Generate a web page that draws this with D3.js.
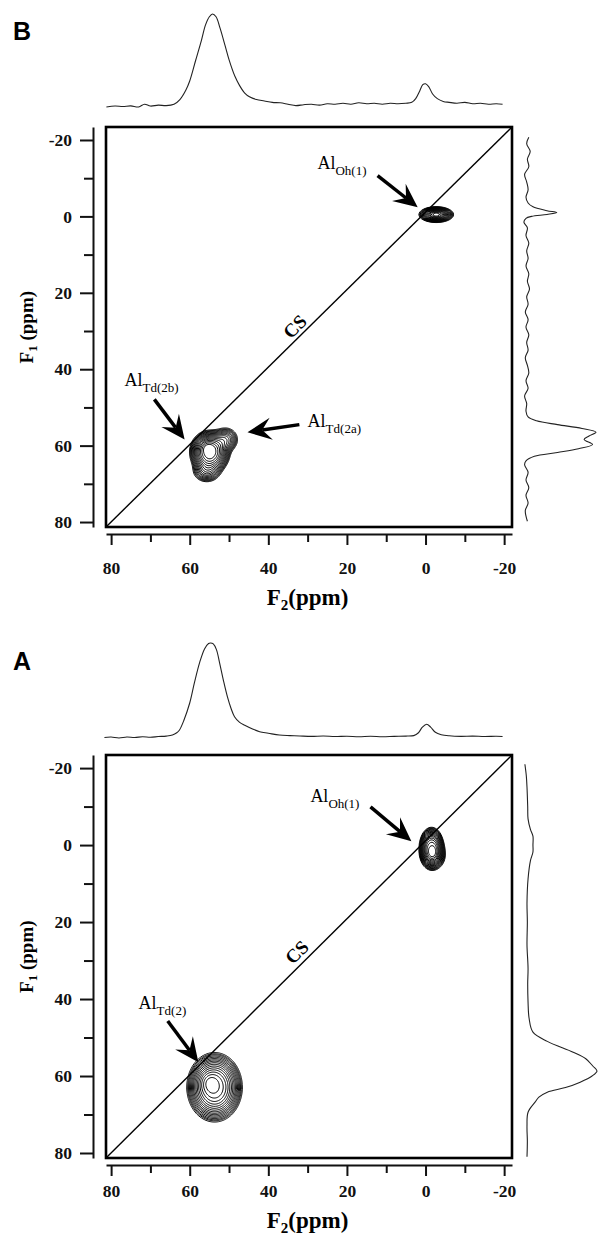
<!DOCTYPE html>
<html>
<head>
<meta charset="utf-8">
<script src="https://cdn.jsdelivr.net/npm/d3@7"></script>
<style>
body { margin: 0; background: #fff; }
svg { display: block; }
.tick text { font-family: "Liberation Serif", "Times New Roman", serif; font-weight: bold; font-size: 17.5px; fill: #111; }
.axis .domain, .axis line { stroke: #111; stroke-width: 2; }
</style>
</head>
<body>
<svg width="598" height="1236"></svg>
<script>
// ---- data (ppm / relative intensity) ----
const majorTicks = [80, 60, 40, 20, 0, -20]
const minorTicks = [70, 50, 30, 10, -10]

// contour levels, fraction of the strongest peak
const levels = [0.05, 0.065, 0.08, 0.1, 0.125, 0.155, 0.19, 0.23, 0.28, 0.34, 0.41, 0.49, 0.58, 0.68, 0.79, 0.9]

// F2 projection (top), [ppm, intensity]
const topB = [[81.2,0],[79,1],[77,0.5],[75,1.2],[73,0],[71.5,3],[70,1],[68,2],[66,1.5],[64,3],[62.5,8],[61,18],[60,28],[58.5,50],[57,72],[56,88],[55,97],[54.2,100],[53.3,97],[52.3,85],[51,66],[50,51],[48.5,33],[47.3,23],[46,15],[44.8,11],[43,8],[41,6.5],[39,5],[37,4.5],[35,3],[33,1.5],[31,2.5],[29,3],[27,2],[25,3.5],[23,3],[21,4],[19,3],[17,4.5],[15,3.5],[13,4],[11,3],[9,4],[7,3.5],[5,4],[3.5,5],[2.5,9],[1.5,17],[0.7,24],[0,25],[-0.8,22],[-1.8,14],[-3,9],[-4.5,6],[-6,5],[-8,4],[-10,5],[-12,3.5],[-14,4],[-16,3],[-18,3.5],[-19.6,3]]
const topA = [[81.7,0],[80,0.5],[78,-0.5],[76,0.5],[74,0],[72,0.8],[70,0.3],[68,1],[66,1.5],[64.4,2.6],[63.3,5],[62.6,8],[61.5,18],[60,36.5],[58.8,58],[57.5,79],[56.2,94],[55.2,99.5],[54.7,100],[54,99],[53.2,93],[52.4,79],[51.4,60],[50.4,43],[49.5,31],[48.6,22],[47.3,16],[46,13],[44,9],[42.2,6],[40,4.5],[37.2,2.6],[34.5,2],[32,1.6],[29,1.2],[26,1.6],[23,1],[20,1.4],[17,0.8],[14,1.3],[11,0.8],[8,1.2],[5,1.5],[3,2],[1.8,5],[0.8,11],[-0.3,14],[-1.3,11],[-2.5,5.5],[-4,3],[-6,1.8],[-9,1.2],[-12,1.5],[-15,1],[-18,1.3],[-19.6,1]]

// F1 projection (right), [ppm, intensity]
const rightB = [[-20.7,4],[-19,1],[-17,6],[-15,2],[-13,4],[-11,-2],[-9,1],[-7,3],[-5,0],[-3.5,3],[-2.5,10],[-1.5,30],[-1,44],[-0.5,30],[0,8],[0.5,0],[1.5,-3],[3,2],[5,0],[7,4],[9,1],[11,3],[13,0],[15,4],[17,2],[19,5],[21,1],[23,3],[25,-1],[27,3],[29,0],[31,4],[33,1],[35,3],[37,-1],[39,2],[41,4],[43,0],[45,3],[47,-2],[49,1],[51,0],[52.5,3],[53.5,15],[54.5,45],[55.5,80],[56.5,100],[57.5,90],[58.4,83],[59.7,95],[60.8,75],[61.8,45],[62.8,12],[64,0],[65,-2],[67,3],[69,0],[71,4],[73,0],[75,3],[77,-1],[79.8,2]]
const rightA = [[-21,-3],[-18,-1],[-15,0],[-10,1],[-6.8,1.5],[-4,5],[-2.3,8.5],[0,8.5],[1.8,8.5],[4,5],[8.8,1.5],[15,0],[20,0.5],[26,0],[32,1.5],[36,1],[40.8,1.5],[45,3],[48.6,8.5],[51,29],[53.8,66],[55.5,84],[57.4,94],[58.7,100],[60,93],[61.6,76],[63,55],[64.2,29],[65.5,17],[66.8,11.5],[69.4,1.5],[73,0],[77,0.5],[81,0]]

// 2D peaks: centre (F2, F1), half widths (ppm), shape exponent, amplitude
const peaksB = [
  {f2: 55.0, f1: 61.6, w2: 2.6, w1: 2.9, p: 1.3, amp: 1},
  {f2: 51.0, f1: 58.3, w2: 1.6, w1: 1.6, p: 1, amp: 0.3},
  {f2: 55.8, f1: 66.6, w2: 1.8, w1: 1.5, p: 1, amp: 0.25},
  {f2: 55.6, f1: 60.3, w2: 1.0, w1: 0.9, p: 1, amp: 0.12},
  {f2: -2.6, f1: -0.6, w2: 1.8, w1: 0.85, p: 1, amp: 1}
]
const peaksA = [
  {f2: 53.8, f1: 62.8, w2: 3.6, w1: 4.6, p: 1.3, amp: 0.9},
  {f2: 55.4, f1: 61.4, w2: 1.6, w1: 1.8, p: 1, amp: 0.15},
  {f2: -1.4, f1: 0.6, w2: 1.7, w1: 2.9, p: 1.4, amp: 0.8},
  {f2: -1.9, f1: 2.6, w2: 1.5, w1: 1.8, p: 1, amp: 0.3}
]

// annotations: label subscript, label anchor, arrow tail and tip (ppm)
const notesB = [
  {sub: 'Oh(1)', at: [27.5, -12.3], tail: [12.2, -10.7], tip: [2.0, -2.4]},
  {sub: 'Td(2b)', at: [76.6, 44.5], tail: [69.0, 47.9], tip: [61.3, 58.4]},
  {sub: 'Td(2a)', at: [30.0, 55.2], tail: [32.1, 54.5], tip: [45.3, 56.5]}
]
const notesA = [
  {sub: 'Oh(1)', at: [29.3, -11.2], tail: [14.0, -9.9], tip: [3.6, -1.0]},
  {sub: 'Td(2)', at: [73.0, 42.6], tail: [65.6, 45.7], tip: [57.8, 56.4]}
]
const csB = [33.3, 28.8]
const csA = [32.8, 27.8]

// ---- drawing ----
const SERIF = '"Liberation Serif", "Times New Roman", serif'
const svg = d3.select('svg')

function arrow(g, x0, y0, x1, y1) {
  const L = 24, W = 22
  const dx = x1 - x0, dy = y1 - y0
  const len = Math.hypot(dx, dy)
  const ux = dx / len, uy = dy / len
  const nx = -uy, ny = ux
  const bx = x1 - ux * L, by = y1 - uy * L
  const mx = x1 - ux * L * 0.62, my = y1 - uy * L * 0.62
  g.append('line')
    .attr('x1', x0).attr('y1', y0).attr('x2', mx).attr('y2', my)
    .attr('stroke', '#000').attr('stroke-width', 3.5)
  g.append('path')
    .attr('d', `M${x1},${y1}L${bx + nx * W / 2},${by + ny * W / 2}L${mx},${my}L${bx - nx * W / 2},${by - ny * W / 2}Z`)
    .attr('fill', '#000')
}

function drawPanel(cfg) {
  const x = d3.scaleLinear().domain([81.3, -22]).range([106, 512])
  const y = d3.scaleLinear().domain([-23.4, 81.3]).range([cfg.boxTop, cfg.boxBottom])
  const g = svg.append('g')

  // panel letter
  g.append('text')
    .attr('x', 13).attr('y', cfg.letterY)
    .attr('font-family', '"Liberation Sans", Arial, sans-serif')
    .attr('font-weight', 'bold').attr('font-size', 25)
    .text(cfg.letter)

  // projections
  const ty = d3.scaleLinear().domain([0, 100]).range(cfg.topRange)
  const rx = d3.scaleLinear().domain([0, 100]).range(cfg.rightRange)
  g.append('path')
    .attr('d', d3.line().x(d => x(d[0])).y(d => ty(d[1])).curve(d3.curveCatmullRom)(cfg.top))
    .attr('fill', 'none').attr('stroke', '#222').attr('stroke-width', 1.1)
  g.append('path')
    .attr('d', d3.line().x(d => rx(d[1])).y(d => y(d[0])).curve(d3.curveCatmullRom)(cfg.right))
    .attr('fill', 'none').attr('stroke', '#222').attr('stroke-width', 1.1)

  // contours from the peak table
  const step = 0.25, f2s = 82, f1s = -24
  const n = 421, m = 425
  const values = new Float64Array(n * m)
  for (let j = 0; j < m; j++) {
    const f1 = f1s + j * step
    for (let i = 0; i < n; i++) {
      const f2 = f2s - i * step
      let v = 0
      for (const pk of cfg.peaks) {
        const a = (f2 - pk.f2) / pk.w2, b = (f1 - pk.f1) / pk.w1
        const r2 = a * a + b * b
        if (r2 < 40) v += pk.amp * Math.exp(-0.5 * Math.pow(r2, pk.p))
      }
      values[j * n + i] = v
    }
  }
  const proj = d3.geoTransform({
    point: function(gx, gy) { this.stream.point(x(f2s - gx * step), y(f1s + gy * step)) }
  })
  const contours = d3.contours().size([n, m]).thresholds(levels)(values)
  g.append('g').selectAll('path')
    .data(contours)
    .enter().append('path')
      .attr('d', d3.geoPath(proj))
      .attr('fill', 'none').attr('stroke', '#000').attr('stroke-width', 1)

  // box and CS diagonal
  const [xa, xb] = x.domain(), [ya, yb] = y.domain()
  g.append('line')
    .attr('x1', x(xa)).attr('y1', y(yb)).attr('x2', x(xb)).attr('y2', y(ya))
    .attr('stroke', '#000').attr('stroke-width', 1.4)
  g.append('rect')
    .attr('x', x(xa)).attr('y', y(ya))
    .attr('width', x(xb) - x(xa)).attr('height', y(yb) - y(ya))
    .attr('fill', 'none').attr('stroke', '#000').attr('stroke-width', 2.6)

  const ang = Math.atan2(y(ya) - y(yb), x(xb) - x(xa)) * 180 / Math.PI
  g.append('text')
    .attr('transform', `translate(${x(cfg.cs[0])},${y(cfg.cs[1])}) rotate(${ang})`)
    .attr('text-anchor', 'middle').attr('dy', '0.35em')
    .attr('font-family', SERIF).attr('font-weight', 'bold').attr('font-size', 19)
    .text('CS')

  // axes
  const fmt = d => String(d)
  const left = g.append('g').attr('class', 'axis').attr('transform', 'translate(93,0)')
  left.call(d3.axisLeft(y).tickValues(majorTicks).tickSize(13).tickSizeOuter(0).tickPadding(8).tickFormat(fmt))
  left.append('g').call(d3.axisLeft(y).tickValues(minorTicks).tickSize(9).tickSizeOuter(0).tickFormat(''))
    .select('.domain').remove()

  const axY = cfg.boxBottom + 7
  const bottom = g.append('g').attr('class', 'axis').attr('transform', `translate(0,${axY})`)
  bottom.call(d3.axisBottom(x).tickValues(majorTicks).tickSize(11).tickSizeOuter(0).tickPadding(cfg.xPad).tickFormat(fmt))
  bottom.append('g').call(d3.axisBottom(x).tickValues(minorTicks).tickSize(8).tickSizeOuter(0).tickFormat(''))
    .select('.domain').remove()
  g.selectAll('.tick text').attr('font-family', null).attr('font-size', null)

  // axis titles
  const t1 = g.append('text')
    .attr('transform', `translate(26,${y(29)}) rotate(-90)`)
    .attr('text-anchor', 'middle').attr('dy', '0.35em')
    .attr('font-family', SERIF).attr('font-weight', 'bold').attr('font-size', 19)
  t1.append('tspan').text('F')
  t1.append('tspan').attr('font-size', 13).attr('dy', 4).text('1')
  t1.append('tspan').attr('dy', -4).text(' (ppm)')

  const t2 = g.append('text')
    .attr('x', x(30)).attr('y', axY + cfg.titleDy)
    .attr('text-anchor', 'middle')
    .attr('font-family', SERIF).attr('font-weight', 'bold').attr('font-size', 23)
  t2.append('tspan').text('F')
  t2.append('tspan').attr('font-size', 15).attr('dy', 5).text('2')
  t2.append('tspan').attr('dy', -5).text('(ppm)')

  // annotations
  for (const nt of cfg.notes) {
    arrow(g, x(nt.tail[0]), y(nt.tail[1]), x(nt.tip[0]), y(nt.tip[1]))
    const t = g.append('text')
      .attr('x', x(nt.at[0])).attr('y', y(nt.at[1]))
      .attr('font-family', SERIF).attr('font-size', 18)
    t.append('tspan').text('Al')
    t.append('tspan').attr('font-size', 13).attr('dy', 6).text(nt.sub)
  }
}

drawPanel({
  letter: 'B', letterY: 40, boxTop: 127, boxBottom: 527,
  topRange: [107, 14], rightRange: [526, 596],
  top: topB, right: rightB, peaks: peaksB, notes: notesB, cs: csB,
  xPad: 17, titleDy: 71
})
drawPanel({
  letter: 'A', letterY: 670, boxTop: 755, boxBottom: 1158,
  topRange: [737.5, 643], rightRange: [527, 597],
  top: topA, right: rightA, peaks: peaksA, notes: notesA, cs: csA,
  xPad: 9, titleDy: 63
})
</script>
</body>
</html>
